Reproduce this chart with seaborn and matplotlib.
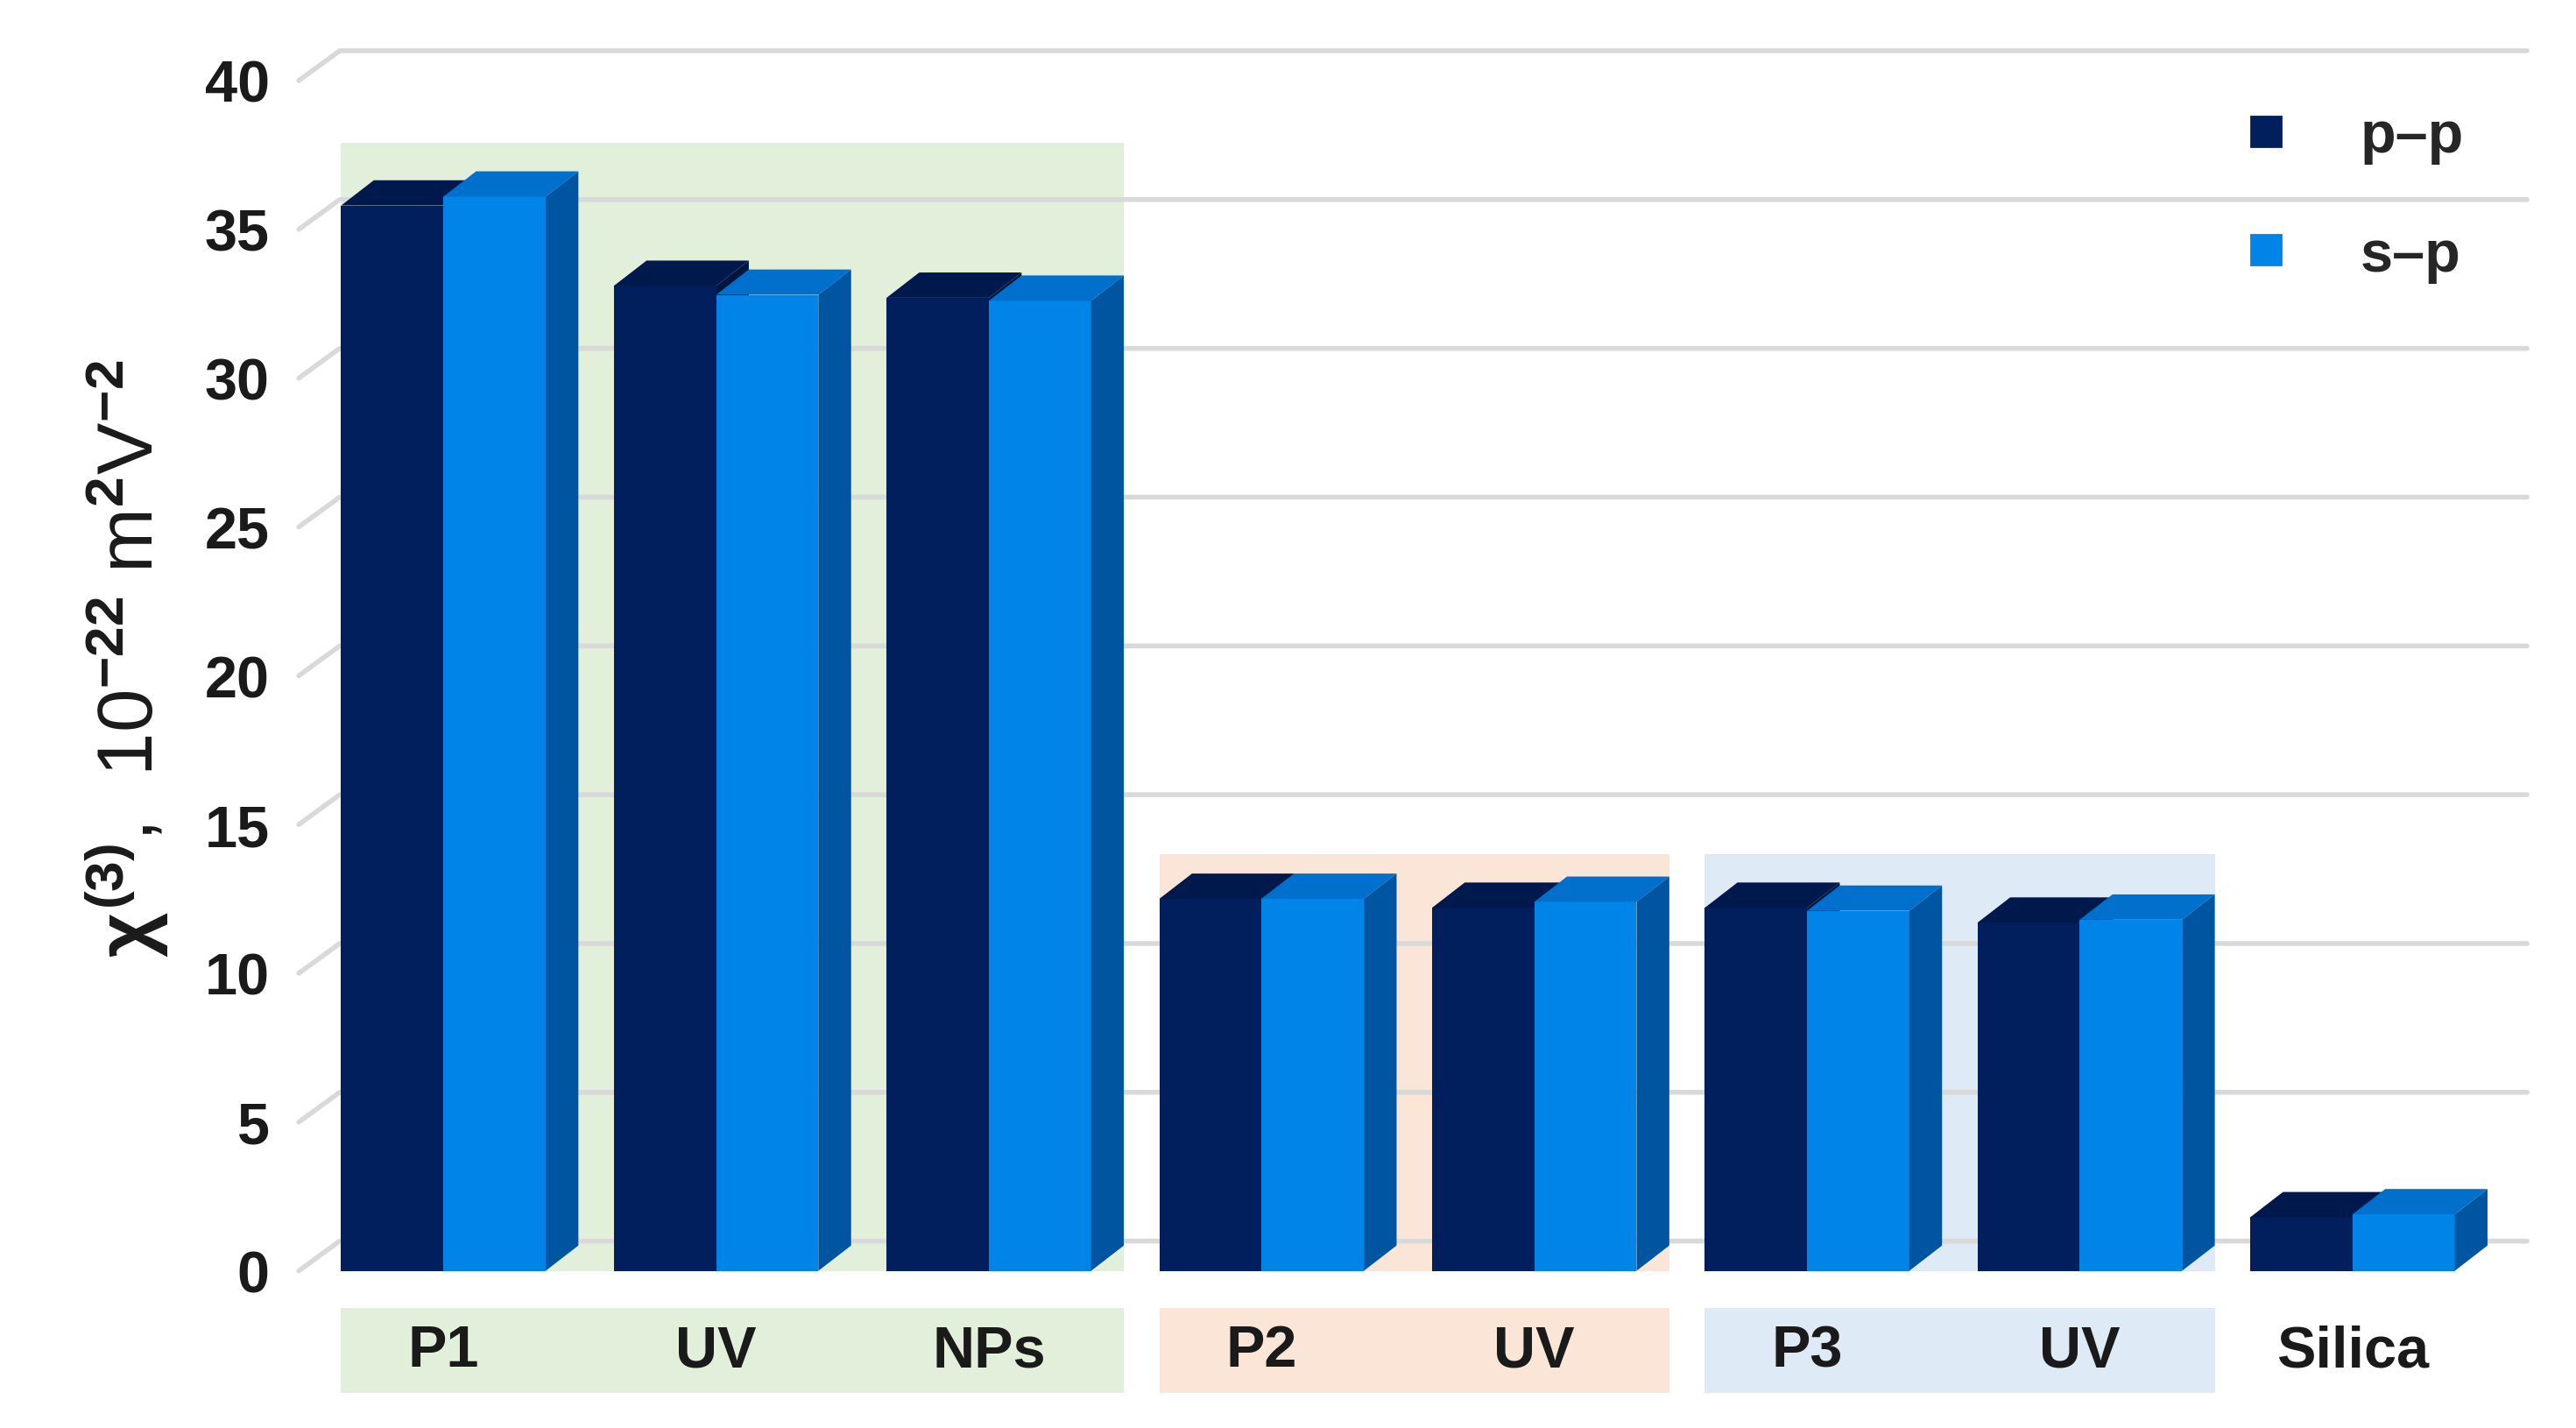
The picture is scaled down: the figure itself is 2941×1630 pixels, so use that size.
import numpy as np
import pandas as pd
import matplotlib
matplotlib.use("Agg")
import matplotlib.pyplot as plt
import seaborn as sns
from matplotlib.patches import Polygon, Rectangle
from matplotlib.lines import Line2D

sns.set_theme(style="white")
plt.rcParams['font.family'] = ['Liberation Sans', 'DejaVu Sans']
plt.rcParams['mathtext.fontset'] = 'custom'
plt.rcParams['mathtext.rm'] = 'Liberation Sans:bold'
plt.rcParams['mathtext.it'] = 'Liberation Sans:bold'
plt.rcParams['mathtext.bf'] = 'Liberation Sans:bold'

# ---- data ----
categories = ["P1", "UV", "NPs", "P2", "UV ", "P3", "UV  ", "Silica"]
pp_vals = [35.8, 33.1, 32.7, 12.5, 12.2, 12.2, 11.7, 1.8]
sp_vals = [36.1, 32.8, 32.6, 12.5, 12.4, 12.1, 11.8, 1.9]
series = ["p\u2013p", "s\u2013p"]

df = pd.DataFrame({
    "cat": categories * 2,
    "val": pp_vals + sp_vals,
    "series": [series[0]] * 8 + [series[1]] * 8,
})

front = ["#001f5c", "#0084e8"]
top_c = ["#00194c", "#0070cc"]
side_c = ["#001540", "#0055a0"]

fig = plt.figure(figsize=(14.705, 8.155), dpi=200)
ax = fig.add_axes([0.116, 0.11, 0.865, 0.858])

sns.barplot(data=df, x="cat", y="val", hue="series", palette=front,
            width=0.75, dodge=True, ax=ax, legend=False, saturation=1)

dx, dy = 0.12, 0.85
xmin, xmax = -0.53, 7.64
ax.set_xlim(xmin, xmax)
ax.set_ylim(0, 41.2)

# 3D faces
for k, cont in enumerate(ax.containers):
    for bar in cont:
        bar.set_zorder(3 + k)
        bar.set_edgecolor("none")
        x0, w, h = bar.get_x(), bar.get_width(), bar.get_height()
        ax.add_patch(Polygon([(x0, h), (x0 + w, h), (x0 + w + dx, h + dy), (x0 + dx, h + dy)],
                             closed=True, color=top_c[k], zorder=3 + k, lw=0))
        ax.add_patch(Polygon([(x0 + w, 0), (x0 + w + dx, dy), (x0 + w + dx, h + dy), (x0 + w, h)],
                             closed=True, color=side_c[k], zorder=3 + k, lw=0))

# gridlines on back wall
for yv in range(0, 45, 5):
    ax.plot([xmin, xmin + 0.15, xmax], [yv, yv + 1.0, yv + 1.0],
            color="#d9d9d9", lw=2, zorder=0.5, clip_on=False)

# shaded group backgrounds
bgs = [(-0.375, 2.495, 37.9, "#e2efda"), (2.625, 4.495, 14.0, "#fbe5d6"),
       (4.625, 6.495, 14.0, "#deebf7")]
for a, b, t, c in bgs:
    ax.add_patch(Rectangle((a, 0), b - a, t, color=c, zorder=0.2, lw=0))

# label boxes below
boxes = [(-0.375, 2.495, "#e2efda"), (2.625, 4.495, "#fbe5d6"), (4.625, 6.495, "#deebf7")]
for a, b, c in boxes:
    ax.add_patch(Rectangle((a, -4.1), b - a, 2.85, color=c, zorder=0.2, lw=0, clip_on=False))
labels = ["P1", "UV", "NPs", "P2", "UV", "P3", "UV", "Silica"]
for i, lab in enumerate(labels):
    ax.text(i, -2.7, lab, ha="center", va="center", fontsize=24, fontweight="bold", color="#1a1a1a")

ax.set_xticks([])
ax.set_xlabel("")
ax.set_yticks(range(0, 45, 5))
ax.set_yticklabels([str(v) for v in range(0, 45, 5)], fontsize=24, fontweight="bold", color="#1a1a1a")
ax.tick_params(axis="y", length=0, pad=12)
for s in ax.spines.values():
    s.set_visible(False)
ax.set_ylabel(r"$\chi^{(3)}$,  10$^{-22}$ m$^{2}$V$^{-2}$", fontsize=32, color="#1a1a1a", labelpad=14)

handles = [Line2D([], [], marker="s", ls="none", markersize=12, color=front[i]) for i in range(2)]
ax.legend(handles, series, loc="upper right", bbox_to_anchor=(0.995, 0.99), frameon=False,
          prop={"size": 24, "weight": "bold"}, handletextpad=0.6, labelspacing=1.1)

fig.savefig("out.png", dpi=200)
